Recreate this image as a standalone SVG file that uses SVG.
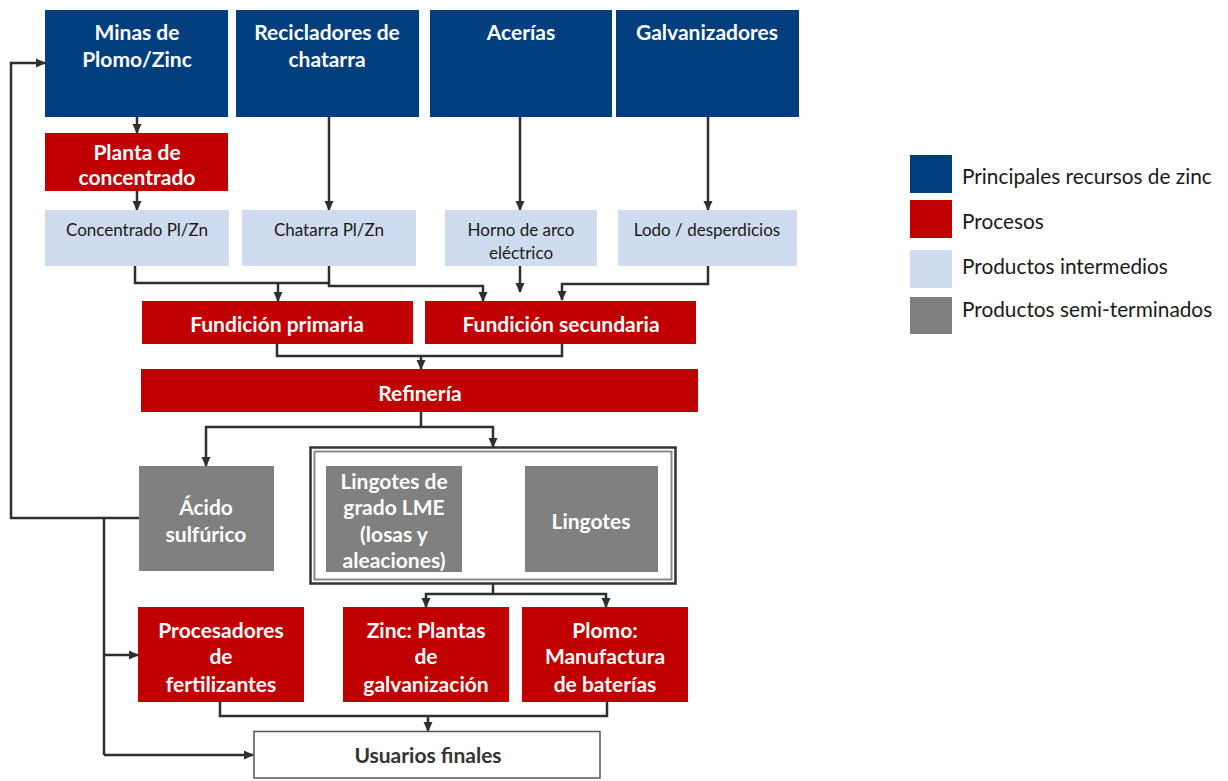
<svg xmlns="http://www.w3.org/2000/svg" width="1228" height="781" viewBox="0 0 1228 781">
<style>
.blue{fill:#003e7e}
.red{fill:#c00000}
.light{fill:#cfdbee}
.gray{fill:#808080}
.tb{font-family:Lato,"Open Sans",sans-serif;font-weight:700;font-size:21px;fill:#fff;text-anchor:middle;dominant-baseline:central}
.ts{font-family:Lato,"Open Sans",sans-serif;font-size:17px;fill:#1a1a1a;text-anchor:middle;dominant-baseline:central}
.tl{font-family:Lato,"Open Sans",sans-serif;font-size:20.8px;fill:#1a1a1a;dominant-baseline:central}
.c{fill:none;stroke:#2f2f2f;stroke-width:2.5}
.ca{fill:none;stroke:#2f2f2f;stroke-width:2.5;marker-end:url(#ah)}
</style>
<defs>
<marker id="ah" markerUnits="userSpaceOnUse" markerWidth="10" markerHeight="10" viewBox="0 0 10 10" refX="9" refY="5" orient="auto">
<path d="M0,0.5 L10,5 L0,9.5 Z" fill="#2f2f2f"/>
</marker>
</defs>
<rect width="1228" height="781" fill="#fff"/>

<g id="connectors">
<path class="ca" d="M137,117 V133"/>
<path class="ca" d="M137,191 V210"/>
<path class="ca" d="M329,117 V210"/>
<path class="ca" d="M520,117 V210"/>
<path class="ca" d="M708,117 V210"/>
<path class="c" d="M135,266 V283 H329"/>
<path class="ca" d="M278,283 V301"/>
<path class="ca" d="M329,266 V286 H483 V301"/>
<path class="ca" d="M520,266 V292"/>
<path class="ca" d="M708,266 V284 H562 V300"/>
<path class="c" d="M277,344 V356 H562 V344"/>
<path class="ca" d="M421,356 V369"/>
<path class="c" d="M421,412 V427"/>
<path class="ca" d="M421,427 H206 V466"/>
<path class="ca" d="M421,427 H493 V447"/>
<path class="ca" d="M139,518 H11 V63 H45"/>
<path class="c" d="M104,518 V755"/>
<path class="ca" d="M104,755 H253"/>
<path class="ca" d="M104,655 H138"/>
<path class="c" d="M493,584 V594"/>
<path class="ca" d="M493,594 H426 V607"/>
<path class="ca" d="M493,594 H606 V607"/>
<path class="c" d="M220,702 V716 H607 V702"/>
<path class="ca" d="M428,716 V731"/>
</g>

<g id="minas"><rect class="blue" x="45" y="10" width="183" height="107"/><text class="tb" x="137" y="31">Minas de</text><text class="tb" x="137" y="58">Plomo/Zinc</text></g>
<g id="recicladores"><rect class="blue" x="236" y="10" width="183" height="107"/><text class="tb" x="327" y="31">Recicladores de</text><text class="tb" x="327" y="58">chatarra</text></g>
<g id="acerias"><rect class="blue" x="430" y="10" width="182" height="107"/><text class="tb" x="521" y="31">Acerías</text></g>
<g id="galvanizadores"><rect class="blue" x="616" y="10" width="183" height="107"/><text class="tb" x="707" y="31">Galvanizadores</text></g>

<g id="planta"><rect class="red" x="45" y="133" width="183" height="58"/><text class="tb" x="137" y="151">Planta de</text><text class="tb" x="137" y="176">concentrado</text></g>

<g id="concentrado"><rect class="light" x="45" y="210" width="184" height="56"/><text class="ts" x="137" y="229">Concentrado Pl/Zn</text></g>
<g id="chatarra"><rect class="light" x="242" y="210" width="174" height="56"/><text class="ts" x="329" y="229">Chatarra Pl/Zn</text></g>
<g id="horno"><rect class="light" x="445" y="210" width="152" height="56"/><text class="ts" x="521" y="229">Horno de arco</text><text class="ts" x="521" y="252">eléctrico</text></g>
<g id="lodo"><rect class="light" x="618" y="210" width="179" height="56"/><text class="ts" x="707" y="229">Lodo / desperdicios</text></g>

<g id="fprimaria"><rect class="red" x="142" y="301" width="271" height="43"/><text class="tb" x="277" y="323">Fundición primaria</text></g>
<g id="fsecundaria"><rect class="red" x="425" y="301" width="271" height="43"/><text class="tb" x="561" y="323">Fundición secundaria</text></g>

<g id="refineria"><rect class="red" x="141" y="369" width="557" height="43"/><text class="tb" x="420" y="392">Refinería</text></g>

<g id="acido"><rect class="gray" x="139" y="466" width="135" height="105"/><text class="tb" x="206" y="506">Ácido</text><text class="tb" x="206" y="533">sulfúrico</text></g>

<g id="lingotesgrupo">
<rect x="310.5" y="447.5" width="365" height="136" fill="#fff" stroke="#333" stroke-width="2.5"/>
<rect x="314.5" y="451.5" width="357" height="128" fill="none" stroke="#8a8a8a" stroke-width="2"/>
</g>
<g id="lme"><rect class="gray" x="326" y="466" width="136" height="106"/><text class="tb" x="394" y="480">Lingotes de</text><text class="tb" x="394" y="506">grado LME</text><text class="tb" x="394" y="533">(losas y</text><text class="tb" x="394" y="559">aleaciones)</text></g>
<g id="lingotes"><rect class="gray" x="525" y="466" width="133" height="106"/><text class="tb" x="591" y="520">Lingotes</text></g>

<g id="procesadores"><rect class="red" x="138" y="607" width="166" height="95"/><text class="tb" x="221" y="629">Procesadores</text><text class="tb" x="221" y="655">de</text><text class="tb" x="221" y="683">fertilizantes</text></g>
<g id="zinc"><rect class="red" x="343" y="607" width="166" height="95"/><text class="tb" x="426" y="629">Zinc: Plantas</text><text class="tb" x="426" y="655">de</text><text class="tb" x="426" y="683">galvanización</text></g>
<g id="plomo"><rect class="red" x="522" y="607" width="166" height="95"/><text class="tb" x="605" y="629">Plomo:</text><text class="tb" x="605" y="655">Manufactura</text><text class="tb" x="605" y="683">de baterías</text></g>

<g id="usuarios"><rect x="254" y="731.5" width="346" height="46.5" fill="#fff" stroke="#555" stroke-width="1.5"/><text class="tb" x="428" y="754" style="fill:#333">Usuarios finales</text></g>

<g id="legend">
<rect class="blue" x="910" y="155" width="42" height="38"/><text class="tl" x="962" y="175">Principales recursos de zinc</text>
<rect class="red" x="910" y="200" width="42" height="38"/><text class="tl" x="962" y="220">Procesos</text>
<rect class="light" x="910" y="250" width="42" height="38"/><text class="tl" x="962" y="265">Productos intermedios</text>
<rect class="gray" x="910" y="297" width="42" height="37"/><text class="tl" x="962" y="308">Productos semi-terminados</text>
</g>
</svg>
